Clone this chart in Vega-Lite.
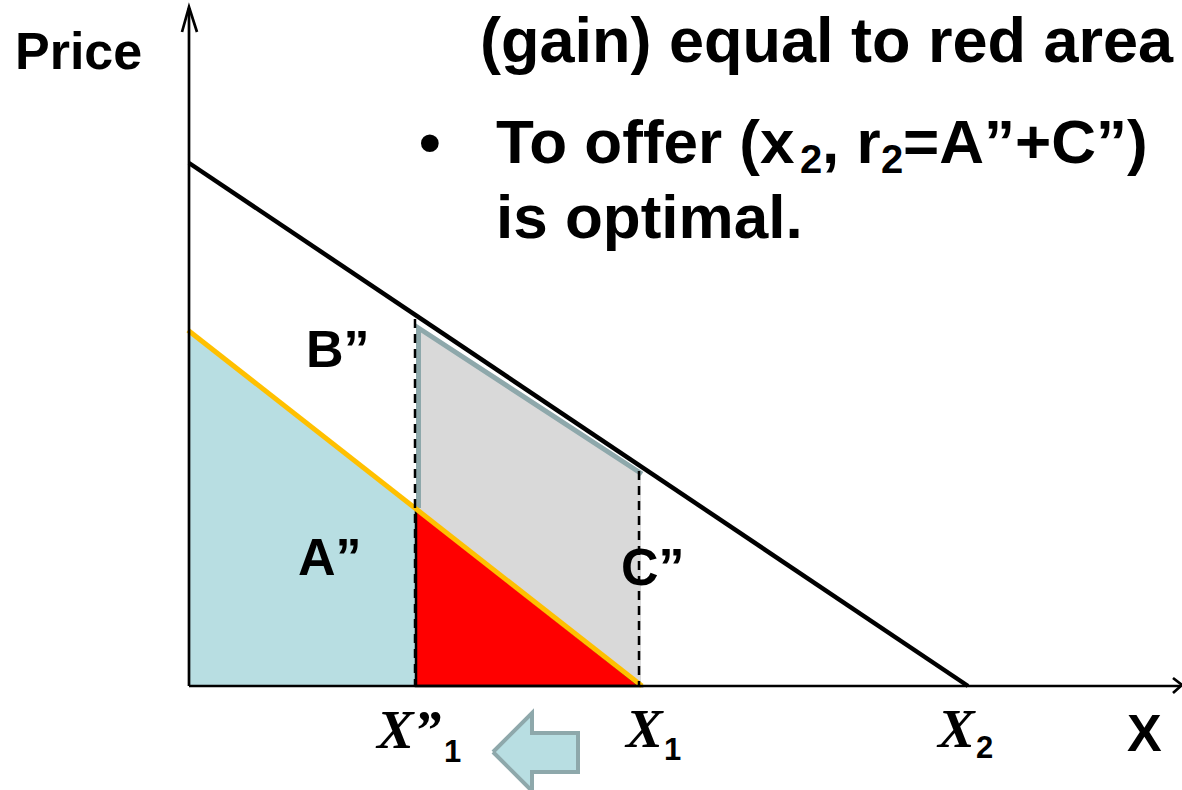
{
  "$schema": "https://vega.github.io/schema/vega-lite/v6.json",
  "width": 1182,
  "height": 790,
  "autosize": {"type": "none"},
  "padding": 0,
  "background": "white",
  "config": {"view": {"stroke": null}},
  "datasets": {
    "blue": [{"q": 0, "p": 355, "p0": 0}, {"q": 227, "p": 176.7, "p0": 0}],
    "gray": [{"q": 227, "p": 359.6, "p0": 176.7}, {"q": 452, "p": 212.6, "p0": 0}],
    "red": [{"q": 227, "p": 176.7, "p0": 0}, {"q": 451, "p": 0, "p0": 0}],
    "grayEdge": [{"k": 1, "q": 229.5, "p": 178}, {"k": 2, "q": 229.5, "p": 358}, {"k": 3, "q": 453, "p": 212}],
    "supply": [{"q": -1, "p": 355.8}, {"q": 453, "p": 0}],
    "demand": [{"q": 0, "p": 523}, {"q": 779, "p": 0}],
    "dashed": [{"q": 226, "p": 367, "p0": 0}, {"q": 450, "p": 215, "p0": 0}],
    "yAxis": [{"q": 0, "p0": 0, "p": 678}],
    "xAxis": [{"p": 0, "q0": 0, "q": 991}],
    "heads": [
      {"id": "y", "k": 1, "q": -7, "p": 654}, {"id": "y", "k": 2, "q": 0, "p": 679}, {"id": "y", "k": 3, "q": 8, "p": 654},
      {"id": "x", "k": 1, "q": 984, "p": 8}, {"id": "x", "k": 2, "q": 993, "p": 1}, {"id": "x", "k": 3, "q": 984, "p": -7}
    ],
    "shiftHead": [{"q": 304, "p": -66, "p0": -66}, {"q": 343, "p": -27, "p0": -105}],
    "shiftShaft": [{"q": 343, "q2": 389, "p": -47, "p0": -86}],
    "shiftOutline": [
      {"k": 1, "q": 304, "p": -66},
      {"k": 2, "q": 343, "p": -27},
      {"k": 3, "q": 343, "p": -47},
      {"k": 4, "q": 389, "p": -47},
      {"k": 5, "q": 389, "p": -86},
      {"k": 6, "q": 343, "p": -86},
      {"k": 7, "q": 343, "p": -105},
      {"k": 8, "q": 304, "p": -66}
    ],
    "topText": [{"t": "(gain) equal to red area", "q": 291, "p": 624}],
    "bigText": [
      {"t": "•", "q": 230, "p": 523},
      {"t": "To offer (x", "q": 307, "p": 523},
      {"t": ", r", "q": 633, "p": 523},
      {"t": "=A”+C”)", "q": 714, "p": 523},
      {"t": "is optimal.", "q": 307, "p": 448}
    ],
    "bigSub": [{"t": "2", "q": 611, "p": 513}, {"t": "2", "q": 692, "p": 513}],
    "labels": [
      {"t": "Price", "q": -174, "p": 617},
      {"t": "X", "q": 938, "p": -65},
      {"t": "B”", "q": 117, "p": 319},
      {"t": "A”", "q": 109, "p": 111},
      {"t": "C”", "q": 432, "p": 101}
    ],
    "italX": [{"t": "X”", "q": 188, "p": -62}, {"t": "X", "q": 437, "p": -61}, {"t": "X", "q": 749, "p": -61}],
    "xSub": [{"t": "1", "q": 255, "p": -76}, {"t": "1", "q": 475, "p": -74}, {"t": "2", "q": 787, "p": -72}]
  },
  "layer": [
    {
      "data": {"name": "blue"},
      "mark": {"type": "area", "color": "#b8dee2"},
      "encoding": {
        "x": {"field": "q", "type": "quantitative", "scale": {"domain": [-189, 993], "nice": false, "zero": false}, "axis": null},
        "y": {"field": "p", "type": "quantitative", "scale": {"domain": [-104, 686], "nice": false, "zero": false}, "axis": null},
        "y2": {"field": "p0"}
      }
    },
    {
      "data": {"name": "gray"},
      "mark": {"type": "area", "color": "#d9d9d9"},
      "encoding": {
        "x": {"field": "q", "type": "quantitative"},
        "y": {"field": "p", "type": "quantitative"},
        "y2": {"field": "p0"}
      }
    },
    {
      "data": {"name": "red"},
      "mark": {"type": "area", "color": "#ff0000", "stroke": "black", "strokeWidth": 2.5, "strokeJoin": "miter"},
      "encoding": {
        "x": {"field": "q", "type": "quantitative"},
        "y": {"field": "p", "type": "quantitative"},
        "y2": {"field": "p0"}
      }
    },
    {
      "data": {"name": "grayEdge"},
      "mark": {"type": "line", "color": "#8ea8ab", "strokeWidth": 5, "strokeJoin": "miter"},
      "encoding": {
        "x": {"field": "q", "type": "quantitative"},
        "y": {"field": "p", "type": "quantitative"},
        "order": {"field": "k"}
      }
    },
    {
      "data": {"name": "supply"},
      "mark": {"type": "line", "color": "#ffc000", "strokeWidth": 5},
      "encoding": {
        "x": {"field": "q", "type": "quantitative"},
        "y": {"field": "p", "type": "quantitative"}
      }
    },
    {
      "data": {"name": "demand"},
      "mark": {"type": "line", "color": "black", "strokeWidth": 4.5},
      "encoding": {
        "x": {"field": "q", "type": "quantitative"},
        "y": {"field": "p", "type": "quantitative"}
      }
    },
    {
      "data": {"name": "dashed"},
      "mark": {"type": "rule", "color": "black", "strokeWidth": 2.5, "strokeDash": [9, 6]},
      "encoding": {
        "x": {"field": "q", "type": "quantitative"},
        "y": {"field": "p", "type": "quantitative"},
        "y2": {"field": "p0"}
      }
    },
    {
      "data": {"name": "yAxis"},
      "mark": {"type": "rule", "color": "black", "strokeWidth": 2.7},
      "encoding": {
        "x": {"field": "q", "type": "quantitative"},
        "y": {"field": "p", "type": "quantitative"},
        "y2": {"field": "p0"}
      }
    },
    {
      "data": {"name": "xAxis"},
      "mark": {"type": "rule", "color": "black", "strokeWidth": 2.7},
      "encoding": {
        "y": {"field": "p", "type": "quantitative"},
        "x": {"field": "q0", "type": "quantitative"},
        "x2": {"field": "q"}
      }
    },
    {
      "data": {"name": "heads"},
      "mark": {"type": "line", "color": "black", "strokeWidth": 2.7, "strokeJoin": "miter"},
      "encoding": {
        "x": {"field": "q", "type": "quantitative"},
        "y": {"field": "p", "type": "quantitative"},
        "detail": {"field": "id"},
        "order": {"field": "k"}
      }
    },
    {
      "data": {"name": "shiftHead"},
      "mark": {"type": "area", "color": "#b8dee2"},
      "encoding": {
        "x": {"field": "q", "type": "quantitative"},
        "y": {"field": "p", "type": "quantitative"},
        "y2": {"field": "p0"}
      }
    },
    {
      "data": {"name": "shiftShaft"},
      "mark": {"type": "rect", "color": "#b8dee2"},
      "encoding": {
        "x": {"field": "q", "type": "quantitative"},
        "x2": {"field": "q2"},
        "y": {"field": "p", "type": "quantitative"},
        "y2": {"field": "p0"}
      }
    },
    {
      "data": {"name": "shiftOutline"},
      "mark": {"type": "line", "color": "#8ea8ab", "strokeWidth": 4, "strokeJoin": "miter"},
      "encoding": {
        "x": {"field": "q", "type": "quantitative"},
        "y": {"field": "p", "type": "quantitative"},
        "order": {"field": "k"}
      }
    },
    {
      "data": {"name": "topText"},
      "mark": {"type": "text", "font": "Liberation Sans", "fontWeight": "bold", "fontSize": 63, "align": "left", "baseline": "alphabetic", "color": "black"},
      "encoding": {
        "x": {"field": "q", "type": "quantitative"},
        "y": {"field": "p", "type": "quantitative"},
        "text": {"field": "t"}
      }
    },
    {
      "data": {"name": "bigText"},
      "mark": {"type": "text", "font": "Liberation Sans", "fontWeight": "bold", "fontSize": 62, "align": "left", "baseline": "alphabetic", "color": "black"},
      "encoding": {
        "x": {"field": "q", "type": "quantitative"},
        "y": {"field": "p", "type": "quantitative"},
        "text": {"field": "t"}
      }
    },
    {
      "data": {"name": "bigSub"},
      "mark": {"type": "text", "font": "Liberation Sans", "fontWeight": "bold", "fontSize": 40, "align": "left", "baseline": "alphabetic", "color": "black"},
      "encoding": {
        "x": {"field": "q", "type": "quantitative"},
        "y": {"field": "p", "type": "quantitative"},
        "text": {"field": "t"}
      }
    },
    {
      "data": {"name": "labels"},
      "mark": {"type": "text", "font": "Liberation Sans", "fontWeight": "bold", "fontSize": 52, "align": "left", "baseline": "alphabetic", "color": "black"},
      "encoding": {
        "x": {"field": "q", "type": "quantitative"},
        "y": {"field": "p", "type": "quantitative"},
        "text": {"field": "t"}
      }
    },
    {
      "data": {"name": "italX"},
      "mark": {"type": "text", "font": "Liberation Serif", "fontWeight": "bold", "fontStyle": "italic", "fontSize": 55, "align": "left", "baseline": "alphabetic", "color": "black"},
      "encoding": {
        "x": {"field": "q", "type": "quantitative"},
        "y": {"field": "p", "type": "quantitative"},
        "text": {"field": "t"}
      }
    },
    {
      "data": {"name": "xSub"},
      "mark": {"type": "text", "font": "Liberation Sans", "fontWeight": "bold", "fontSize": 31, "align": "left", "baseline": "alphabetic", "color": "black"},
      "encoding": {
        "x": {"field": "q", "type": "quantitative"},
        "y": {"field": "p", "type": "quantitative"},
        "text": {"field": "t"}
      }
    }
  ]
}
